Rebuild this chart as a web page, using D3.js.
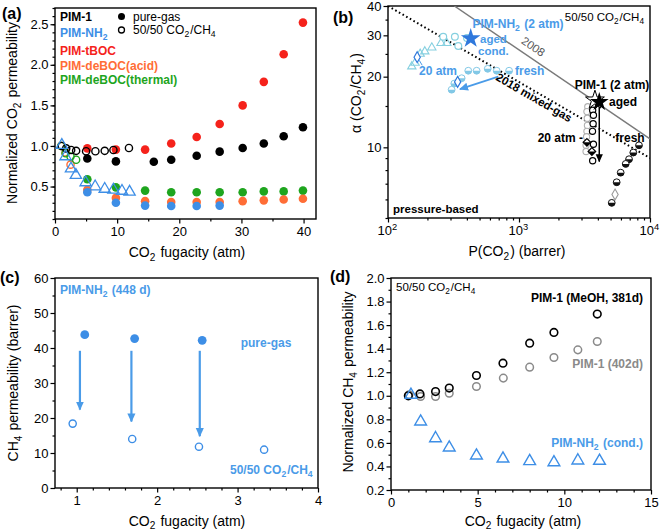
<!DOCTYPE html>
<html><head><meta charset="utf-8">
<script src="https://cdn.jsdelivr.net/npm/d3@7"></script>
<style>
html,body{margin:0;padding:0;background:#fff;}
svg{display:block;font-family:"Liberation Sans",Arial,Helvetica,sans-serif;}
</style></head><body>
<svg id="chart" width="661" height="532"></svg>
<script>
// ---------------- DATA ----------------
// Panel (a): normalized CO2 permeability vs CO2 fugacity
const aPureX      = [5.2, 9.8, 14.5, 18.7, 22.8, 26.5, 30.2, 33.6, 36.8, 39.9];
const aPim1PureX  = [5.2, 9.8, 15.9, 18.7, 22.8, 26.5, 30.2, 33.6, 36.8, 39.9];
const aPim1Pure   = [0.845, 0.81, 0.805, 0.83, 0.88, 0.93, 0.975, 1.03, 1.12, 1.23];
const aTbocPure   = [0.97, 0.955, 0.955, 1.03, 1.11, 1.27, 1.50, 1.79, 2.13, 2.52];
const aThermPure  = [0.59, 0.49, 0.45, 0.43, 0.43, 0.43, 0.43, 0.44, 0.44, 0.45];
const aAcidPure   = [0.46, 0.36, 0.32, 0.31, 0.31, 0.31, 0.32, 0.33, 0.34, 0.35];
const aNh2PureX   = [5.2, 9.8, 14.5, 18.7, 22.8, 26.5];
const aNh2Pure    = [0.43, 0.30, 0.265, 0.26, 0.26, 0.265];
const aPim1MixX   = [1.1, 1.8, 2.6, 3.4, 5.0, 6.5, 8.0, 9.4, 11.9];
const aPim1Mix    = [1.0, 0.97, 0.95, 0.94, 0.935, 0.935, 0.94, 0.95, 0.975];
const aNh2MixX    = [1.1, 1.7, 2.57, 3.36, 4.93, 6.46, 8.0, 9.4, 10.78, 12.0];
const aNh2Mix     = [1.01, 0.87, 0.72, 0.64, 0.55, 0.50, 0.47, 0.46, 0.445, 0.435];
const aThermMixX  = [1.0, 1.7, 2.5, 3.4];
const aThermMix   = [1.0, 0.91, 0.87, 0.83];
const aAcidMixX   = [1.0, 1.7, 2.5];
const aAcidMix    = [1.0, 0.92, 0.77];
const aXTicks = [0, 10, 20, 30, 40];
const aYTicks = [0.5, 1.0, 1.5, 2.0, 2.5];

// Panel (b): Robeson plot, alpha(CO2/CH4) vs P(CO2)
const bUpper2008  = [[321, 40], [10000, 10.86]];
const bMixed2018  = [[100, 40], [10000, 9.0]];
const bNh2FreshX  = [306, 321, 365, 410, 475, 577, 676, 840];
const bNh2FreshY  = [17.6, 18.7, 19.7, 21.2, 21.2, 21.6, 21.2, 21.2];
const bNh2CondX   = [152, 161, 176, 191, 216, 254, 281];
const bNh2CondY   = [22.1, 22.9, 25.0, 25.6, 26.6, 27.8, 27.8];
const bNh2AgedX   = [264, 324, 344, 401];
const bNh2AgedY   = [29.6, 29.6, 27.0, 29.2];
const bNh2DiamX   = [167, 340];
const bNh2DiamY   = [24.2, 19.0];
const bNh2Star    = [428, 29.1];
const bNh2Arrow   = [[695, 20.0], [354, 17.7]];
const bPim1MixX   = [3720, 3650, 3700, 3680, 3640, 3700, 3650];
const bPim1MixY   = [15.1, 14.4, 13.7, 12.6, 11.7, 10.3, 8.77];
const bPim1GrayX  = [3350, 3300, 3320, 3330, 3300, 3280, 3250, 3250];
const bPim1GrayY  = [14.9, 14.2, 13.3, 12.4, 11.7, 11.1, 10.2, 9.6];
const bPim1DiamX  = [3300, 3600];
const bPim1DiamY  = [10.5, 9.6];
const bPim1FreshX = [8240, 7457, 6918, 6525, 5974, 5566, 5103];
const bPim1FreshY = [10.2, 9.5, 8.9, 8.5, 7.8, 7.1, 5.8];
const bPim1FreshDiam = [5410, 6.3];
const bPim1StarBlack = [4100, 15.6];
const bPim1StarOpen  = [3800, 15.9];
const bPim1Arrow  = [[4100, 14.9], [4100, 8.7]];
const bXTicks = [100, 1000, 10000];
const bXTickExp = ["2", "3", "4"];
const bYTicks = [10, 20, 30, 40];

// Panel (c): CH4 permeability of PIM-NH2 (448 d)
const cPureX = [1.10, 1.72, 2.56];
const cPureY = [43.8, 42.7, 42.2];
const cMixX  = [0.95, 1.69, 2.52, 3.33];
const cMixY  = [18.4, 14.0, 11.8, 10.95];
const cArrowX    = [1.04, 1.68, 2.53];
const cArrowFrom = [39.2, 39.2, 39.2];
const cArrowTo   = [22.4, 19.0, 14.8];
const cXTicks = [1, 2, 3, 4];
const cYTicks = [0, 10, 20, 30, 40, 50, 60];

// Panel (d): normalized CH4 permeability, 50/50 CO2/CH4
const dPim1MeohX = [1.0, 1.67, 2.57, 3.36, 4.93, 6.46, 8.0, 9.4, 11.9];
const dPim1MeohY = [1.0, 1.016, 1.036, 1.065, 1.172, 1.277, 1.447, 1.538, 1.694];
const dPim1AgedX = [1.04, 1.71, 2.57, 3.36, 4.93, 6.48, 8.0, 9.4, 10.78, 11.9];
const dPim1AgedY = [1.008, 0.994, 0.994, 1.022, 1.079, 1.15, 1.243, 1.325, 1.39, 1.461];
const dNh2X = [1.15, 1.71, 2.57, 3.36, 4.93, 6.46, 8.0, 9.4, 10.78, 12.03];
const dNh2Y = [1.008, 0.781, 0.639, 0.56, 0.492, 0.466, 0.444, 0.435, 0.45, 0.447];
const dXTicks = [0, 5, 10, 15];
const dYTicks = [0.2, 0.4, 0.6, 0.8, 1.0, 1.2, 1.4, 1.6, 1.8, 2.0];

// ---------------- STYLE ----------------
const C_BLACK = "#000", C_RED = "#f5221b", C_ORANGE = "#ff6d36", C_GREEN = "#1ea51e",
      C_BLUE = "#3d8ee6", C_LBLUE = "#4a9be8", C_CYAN = "#86d0e0", C_GRAY = "#9a9a9a",
      C_DGRAY = "#7a7a7a", C_DBLUE = "#2f78dc";
const FS = 13;

const svg = d3.select("#chart");
const defs = svg.append("defs");
function marker(id, color, size) {
  defs.append("marker").attr("id", id).attr("viewBox", "0 0 10 10")
    .attr("refX", 9).attr("refY", 5).attr("markerWidth", size).attr("markerHeight", size)
    .attr("markerUnits", "userSpaceOnUse").attr("orient", "auto")
    .append("path").attr("d", "M0,0.5 L10,5 L0,9.5 Z").attr("fill", color);
}
marker("arrBlue", C_LBLUE, 9);
marker("arrBlack", "#000", 8);

function rich(t, s, fs) {
  const re = /([_^])\{([^}]*)\}/g; let last = 0, m;
  while ((m = re.exec(s))) {
    if (m.index > last) t.append("tspan").text(s.slice(last, m.index));
    const sub = m[1] === "_";
    const off = sub ? fs * 0.28 : -fs * 0.42;
    t.append("tspan").attr("font-size", fs * 0.72).attr("dy", off).text(m[2]);
    t.append("tspan").attr("font-size", fs).attr("dy", -off).text("\u200A");
    last = re.lastIndex;
  }
  if (last < s.length) t.append("tspan").text(s.slice(last));
  return t;
}
function label(g, x, y, s, o = {}) {
  const fs = o.fs || 11.5;
  const t = g.append("text").attr("x", x).attr("y", y).attr("font-size", fs)
    .attr("fill", o.color || "#000").attr("font-weight", o.bold ? "bold" : "normal")
    .attr("text-anchor", o.anchor || "start");
  if (o.rotate !== undefined) t.attr("transform", `rotate(${o.rotate},${x},${y})`);
  return rich(t, s, fs);
}
function styleAxis(g) {
  g.attr("font-family", null).attr("font-size", FS);
  g.selectAll("line").attr("stroke", "#000").attr("stroke-width", 1.2);
  g.selectAll("text").attr("fill", "#000");
  g.select(".domain").remove();
}
function axes(g, x, y, o) {
  const yb = y.range()[0], xl = x.range()[0];
  g.append("g").attr("transform", `translate(0,${yb})`)
    .call(d3.axisBottom(x).tickValues(o.xt).tickSize(4.5).tickPadding(3).tickFormat(o.xf || (d => d)))
    .call(styleAxis);
  if (o.xm) g.append("g").attr("transform", `translate(0,${yb})`)
    .call(d3.axisBottom(x).tickValues(o.xm).tickSize(2.5).tickFormat("")).call(styleAxis);
  g.append("g").attr("transform", `translate(${xl},0)`)
    .call(d3.axisLeft(y).tickValues(o.yt).tickSize(4.5).tickPadding(2).tickFormat(o.yf || (d => d)))
    .call(styleAxis);
  if (o.ym) g.append("g").attr("transform", `translate(${xl},0)`)
    .call(d3.axisLeft(y).tickValues(o.ym).tickSize(2.5).tickFormat("")).call(styleAxis);
  const [x0, x1] = x.range(), [y0, y1] = y.range();
  g.append("rect").attr("x", x0).attr("y", y1).attr("width", x1 - x0).attr("height", y0 - y1)
    .attr("fill", "none").attr("stroke", "#000").attr("stroke-width", 1.4);
}
const zip = (xs, ys) => xs.map((v, i) => [v, ys[i]]);
function dots(g, x, y, pts, o) {
  return g.append("g").selectAll("circle").data(pts).join("circle")
    .attr("cx", d => x(d[0])).attr("cy", d => y(d[1])).attr("r", o.r)
    .attr("fill", o.fill).attr("stroke", o.stroke || "none").attr("stroke-width", o.sw || 0);
}
function syms(g, x, y, pts, type, size, o) {
  return g.append("g").selectAll("path").data(pts).join("path")
    .attr("transform", d => `translate(${x(d[0])},${y(d[1])})`)
    .attr("d", d3.symbol().type(type).size(size)())
    .attr("fill", o.fill || "none").attr("stroke", o.stroke || "none").attr("stroke-width", o.sw || 1.2);
}
function halfDots(g, x, y, pts, r, color, sw) {
  const gg = g.append("g");
  pts.forEach(d => {
    const cx = x(d[0]), cy = y(d[1]);
    gg.append("circle").attr("cx", cx).attr("cy", cy).attr("r", r).attr("fill", "#fff");
    gg.append("path").attr("d", `M${cx - r},${cy} A${r},${r} 0 0 0 ${cx + r},${cy} Z`).attr("fill", color);
    gg.append("circle").attr("cx", cx).attr("cy", cy).attr("r", r).attr("fill", "none")
      .attr("stroke", color).attr("stroke-width", sw);
  });
}

// ---------------- PANEL (a) ----------------
{
  const g = svg.append("g");
  const x = d3.scaleLinear().domain([0, 42]).range([55, 316]);
  const y = d3.scaleLinear().domain([0.1, 2.7]).range([219, 8]);
  axes(g, x, y, { xt: aXTicks, xm: d3.range(5, 42, 10), yt: aYTicks, yf: d3.format(".1f"),
    ym: d3.range(0.1, 2.71, 0.1).map(v => +v.toFixed(2)) });
  const r = 4.3;
  dots(g, x, y, zip(aPim1PureX, aPim1Pure), { r, fill: C_BLACK });
  dots(g, x, y, zip(aPureX, aTbocPure), { r, fill: C_RED });
  dots(g, x, y, zip(aPureX, aThermPure), { r, fill: C_GREEN });
  dots(g, x, y, zip(aPureX, aAcidPure), { r, fill: C_ORANGE });
  dots(g, x, y, zip(aNh2PureX, aNh2Pure), { r, fill: C_BLUE });
  dots(g, x, y, zip(aAcidMixX, aAcidMix), { r: 3.6, fill: "none", stroke: C_ORANGE, sw: 1.4 });
  dots(g, x, y, zip(aThermMixX, aThermMix), { r: 3.6, fill: "none", stroke: C_GREEN, sw: 1.4 });
  dots(g, x, y, zip(aPim1MixX, aPim1Mix), { r: 3.6, fill: "none", stroke: C_BLACK, sw: 1.4 });
  syms(g, x, y, zip(aNh2MixX, aNh2Mix), d3.symbolTriangle, 55, { stroke: C_BLUE, sw: 1.3 });

  label(g, 60, 21, "PIM-1", { bold: true, fs: 12 });
  label(g, 60, 37, "PIM-NH_{2}", { bold: true, fs: 12, color: C_BLUE });
  label(g, 60, 55, "PIM-tBOC", { bold: true, fs: 12, color: C_RED });
  label(g, 60, 69.5, "PIM-deBOC(acid)", { bold: true, fs: 12, color: C_ORANGE });
  label(g, 60, 84, "PIM-deBOC(thermal)", { bold: true, fs: 12, color: C_GREEN });
  g.append("circle").attr("cx", 121.5).attr("cy", 16.5).attr("r", 3.5).attr("fill", "#000");
  g.append("circle").attr("cx", 121.5).attr("cy", 30).attr("r", 3).attr("fill", "none").attr("stroke", "#000").attr("stroke-width", 1.3);
  label(g, 133, 20.5, "pure-gas", { fs: 12 });
  label(g, 133, 34, "50/50 CO_{2}/CH_{4}", { fs: 12 });

  label(g, 187, 257, "CO_{2} fugacity (atm)", { fs: 14, anchor: "middle" });
  label(g, 17, 113, "Normalized CO_{2} permeability", { fs: 14, anchor: "middle", rotate: -90 });
  label(svg, 2, 19, "(a)", { fs: 16, bold: true });
}

// ---------------- PANEL (b) ----------------
{
  const g = svg.append("g");
  const x = d3.scaleLog().domain([100, 10000]).range([388, 650]);
  const y = d3.scaleLog().domain([5, 40]).range([218, 6]);
  const xm = [200,300,400,500,600,700,800,900,2000,3000,4000,5000,6000,7000,8000,9000];
  axes(g, x, y, { xt: bXTicks, xf: () => "", xm, yt: bYTicks, ym: [5, 6, 7, 8, 9, 15, 25, 35] });
  bXTicks.forEach((v, i) => label(g, x(v), 235, "10^{" + bXTickExp[i] + "}", { fs: FS, anchor: "middle" }));

  const clipId = "clipB";
  defs.append("clipPath").attr("id", clipId).append("rect")
    .attr("x", 388).attr("y", 6).attr("width", 262).attr("height", 212);
  const gl = g.append("g").attr("clip-path", `url(#${clipId})`);
  const line = d3.line().x(d => x(d[0])).y(d => y(d[1]));
  gl.append("path").attr("d", line(bUpper2008)).attr("stroke", C_DGRAY).attr("stroke-width", 1.5).attr("fill", "none");
  gl.append("path").attr("d", line(bMixed2018)).attr("stroke", "#000").attr("stroke-width", 2)
    .attr("stroke-dasharray", "1.6,2.6").attr("fill", "none");

  // PIM-NH2
  halfDots(g, x, y, zip(bNh2FreshX, bNh2FreshY), 3.4, "#82c8e6", 1);
  syms(g, x, y, zip(bNh2CondX, bNh2CondY), d3.symbolTriangle, 30, { stroke: C_CYAN, sw: 1.1 });
  dots(g, x, y, zip(bNh2AgedX, bNh2AgedY), { r: 3.4, fill: "#fff", stroke: C_CYAN, sw: 1.2 });
  syms(g, x, y, zip(bNh2DiamX, bNh2DiamY), d3.symbolDiamond, 34, { stroke: C_DBLUE, fill: "#fff", sw: 1.2 });
  syms(g, x, y, [bNh2Star], d3.symbolStar, 120, { fill: C_DBLUE, stroke: "none" });
  g.append("line").attr("x1", x(bNh2Arrow[0][0])).attr("y1", y(bNh2Arrow[0][1]))
    .attr("x2", x(bNh2Arrow[1][0])).attr("y2", y(bNh2Arrow[1][1]))
    .attr("stroke", C_LBLUE).attr("stroke-width", 1.8).attr("marker-end", "url(#arrBlue)");
  const d0 = [x(bNh2DiamX[0]), y(bNh2DiamY[0])];
  g.append("line").attr("x1", d0[0] + 2).attr("y1", d0[1] + 3).attr("x2", d0[0] + 5).attr("y2", d0[1] + 8)
    .attr("stroke", C_LBLUE).attr("stroke-width", 1);

  // PIM-1
  dots(g, x, y, zip(bPim1GrayX, bPim1GrayY), { r: 3.1, fill: "#fff", stroke: "#b0b0b0", sw: 1.1 });
  dots(g, x, y, zip(bPim1MixX, bPim1MixY), { r: 3.1, fill: "#fff", stroke: "#000", sw: 1.2 });
  bPim1DiamX.forEach((v, i) => {
    const cx = x(v), cy = y(bPim1DiamY[i]), s = 3.8;
    g.append("path").attr("d", `M${cx},${cy - s} L${cx + s},${cy} L${cx},${cy + s} L${cx - s},${cy} Z`).attr("fill", "#fff").attr("stroke", "#000").attr("stroke-width", 1.2);
    g.append("path").attr("d", `M${cx - s},${cy} L${cx + s},${cy} L${cx},${cy + s} Z`).attr("fill", "#000");
  });
  halfDots(g, x, y, zip(bPim1FreshX, bPim1FreshY), 3.4, "#111", 1);
  syms(g, x, y, [bPim1FreshDiam], d3.symbolDiamond, 34, { stroke: "#999", fill: "#fff", sw: 1.1 });
  syms(g, x, y, [bPim1StarOpen], d3.symbolStar, 110, { fill: "#fff", stroke: "#000", sw: 1 });
  syms(g, x, y, [bPim1StarBlack], d3.symbolStar, 110, { fill: "#000", stroke: "none" });
  g.append("line").attr("x1", x(bPim1Arrow[0][0])).attr("y1", y(bPim1Arrow[0][1]))
    .attr("x2", x(bPim1Arrow[1][0])).attr("y2", y(bPim1Arrow[1][1]))
    .attr("stroke", "#000").attr("stroke-width", 1.5).attr("marker-end", "url(#arrBlack)");

  // labels
  label(g, 645, 21, "50/50 CO_{2}/CH_{4}", { fs: 11.5, anchor: "end" });
  label(g, 518, 28, "PIM-NH_{2} (2 atm)", { fs: 12, bold: true, color: C_LBLUE, anchor: "middle" });
  label(g, 480, 42.5, "aged", { fs: 11.5, bold: true, color: C_LBLUE });
  label(g, 478, 55, "cond.", { fs: 11.5, bold: true, color: C_LBLUE });
  label(g, 419, 75, "20 atm", { fs: 12, bold: true, color: C_LBLUE });
  label(g, 515, 75, "fresh", { fs: 12, bold: true, color: C_LBLUE });
  label(g, 531, 50, "2008", { fs: 11.5, color: "#555", anchor: "middle", rotate: 34 });
  label(g, 532, 101, "2018 mixed-gas", { fs: 11.5, bold: true, anchor: "middle", rotate: 30 });
  label(g, 612, 89, "PIM-1 (2 atm)", { fs: 12, bold: true, anchor: "middle" });
  label(g, 609, 106, "aged", { fs: 12, bold: true });
  label(g, 583, 142, "20 atm -", { fs: 12, bold: true, anchor: "end" });
  label(g, 630, 141.5, "fresh", { fs: 12, bold: true, anchor: "middle" });
  label(g, 393, 213, "pressure-based", { fs: 11.5, bold: true });

  label(g, 517, 256, "P(CO_{2}) (barrer)", { fs: 14, anchor: "middle" });
  label(g, 361, 93, "\u03B1 (CO_{2}/CH_{4})", { fs: 14, anchor: "middle", rotate: -90 });
  label(svg, 333, 23, "(b)", { fs: 16, bold: true });
}

// ---------------- PANEL (c) ----------------
{
  const g = svg.append("g");
  const x = d3.scaleLinear().domain([0.73, 4]).range([55, 318]);
  const y = d3.scaleLinear().domain([0, 60]).range([488, 278]);
  axes(g, x, y, { xt: cXTicks, xm: [0.8, 1.2, 1.4, 1.6, 1.8, 2.2, 2.4, 2.6, 2.8, 3.2, 3.4, 3.6, 3.8],
    yt: cYTicks, ym: [5, 15, 25, 35, 45, 55] });
  cArrowX.forEach((v, i) => {
    g.append("line").attr("x1", x(v)).attr("y1", y(cArrowFrom[i])).attr("x2", x(v)).attr("y2", y(cArrowTo[i]))
      .attr("stroke", C_LBLUE).attr("stroke-width", 2.2).attr("marker-end", "url(#arrBlue)");
  });
  dots(g, x, y, zip(cPureX, cPureY), { r: 4.4, fill: C_BLUE });
  dots(g, x, y, zip(cMixX, cMixY), { r: 3.6, fill: "#fff", stroke: C_BLUE, sw: 1.4 });
  label(g, 60, 293.5, "PIM-NH_{2} (448 d)", { fs: 12, bold: true, color: C_LBLUE });
  label(g, 266, 347, "pure-gas", { fs: 12, bold: true, color: C_LBLUE, anchor: "middle" });
  label(g, 230, 474, "50/50 CO_{2}/CH_{4}", { fs: 12, bold: true, color: C_LBLUE });
  label(g, 187, 525.5, "CO_{2} fugacity (atm)", { fs: 14, anchor: "middle" });
  label(g, 18, 383, "CH_{4} permeability (barrer)", { fs: 14, anchor: "middle", rotate: -90 });
  label(svg, 0, 283, "(c)", { fs: 16, bold: true });
}

// ---------------- PANEL (d) ----------------
{
  const g = svg.append("g");
  const x = d3.scaleLinear().domain([0, 15]).range([391, 651]);
  const y = d3.scaleLinear().domain([0.2, 2.0]).range([490, 278]);
  axes(g, x, y, { xt: dXTicks, xm: d3.range(1, 15).filter(v => v % 5), yt: dYTicks, yf: d3.format(".1f"),
    ym: d3.range(0.3, 2.0, 0.2).map(v => +v.toFixed(2)) });
  dots(g, x, y, zip(dPim1AgedX, dPim1AgedY), { r: 3.8, fill: "none", stroke: "#8a8a8a", sw: 1.5 });
  dots(g, x, y, zip(dPim1MeohX, dPim1MeohY), { r: 3.8, fill: "none", stroke: "#000", sw: 1.6 });
  syms(g, x, y, zip(dNh2X, dNh2Y), d3.symbolTriangle, 60, { stroke: C_BLUE, sw: 1.4 });
  label(g, 396, 291, "50/50 CO_{2}/CH_{4}", { fs: 11.5 });
  label(g, 643, 302, "PIM-1 (MeOH, 381d)", { fs: 12, bold: true, anchor: "end" });
  label(g, 643, 368, "PIM-1 (402d)", { fs: 12, bold: true, color: "#8a8a8a", anchor: "end" });
  label(g, 643, 447, "PIM-NH_{2} (cond.)", { fs: 12, bold: true, color: C_LBLUE, anchor: "end" });
  label(g, 523, 525.5, "CO_{2} fugacity (atm)", { fs: 14, anchor: "middle" });
  label(g, 353, 382, "Normalized CH_{4} permeability", { fs: 14, anchor: "middle", rotate: -90 });
  label(svg, 330, 282, "(d)", { fs: 16, bold: true });
}
</script></body></html>
